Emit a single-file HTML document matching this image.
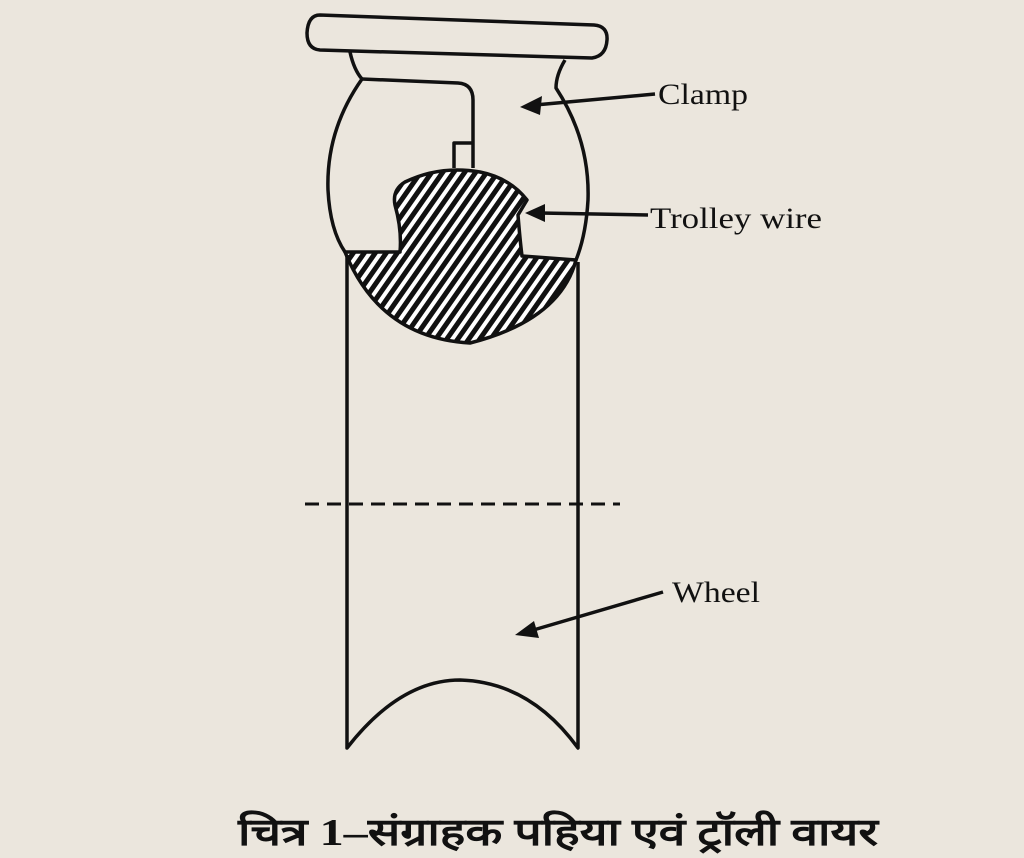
<!DOCTYPE html>
<html><head><meta charset="utf-8"><style>
html,body{margin:0;padding:0;background:#ebe6dd;}
svg{display:block}
</style></head><body>
<svg width="1024" height="858" viewBox="0 0 1024 858" xmlns="http://www.w3.org/2000/svg">
<rect width="1024" height="858" fill="#ebe6dd"/>
<defs>
<pattern id="h" width="9" height="9" patternUnits="userSpaceOnUse" patternTransform="rotate(35)">
<rect width="9" height="9" fill="#fff"/>
<rect width="5" height="9" fill="#111"/>
</pattern>
</defs>
<g fill="none" stroke="#111" stroke-width="3.5" stroke-linejoin="round">
<path d="M320 15 L594 25 Q608 26 607 40 Q606 56 592 58 L320 50 Q307 49 307 33 Q308 15 320 15 Z"/>
<path d="M350 52 Q354 70 362 79 Q326 130 328 190 Q330 230 345 252"/>
<path d="M565 60 Q556 75 556 88 Q590 140 588 200 Q586 235 576 260"/>
<path d="M362 79 L458 83 Q473 84 473 100 L473 168"/>
<path d="M454 168 L454 143 L473 143"/>
<path fill="url(#h)" d="M345 252 L400 252 Q402 230 395 205 Q392 190 405 182 Q440 165 480 172 Q510 178 527 200 L518 215 Q520 240 522 256 L576 260 Q560 320 470 343 Q380 338 345 252 Z"/>
<path d="M347 255 L347 748 Q400 680 460 680 Q530 682 578 748 L578 262"/>
</g>
<line x1="305" y1="504" x2="620" y2="504" stroke="#111" stroke-width="3" stroke-dasharray="14,8"/>
<g stroke="#111" stroke-width="3.5" fill="#111">
<line x1="655" y1="94" x2="535" y2="105"/>
<polygon points="520,107 542,96 540,115" stroke="none"/>
<line x1="648" y1="215" x2="540" y2="213"/>
<polygon points="525,213 545,204 545,222" stroke="none"/>
<line x1="663" y1="592" x2="530" y2="631"/>
<polygon points="515,635 534,621 539,638" stroke="none"/>
</g>
<g font-family="Liberation Serif, serif" font-size="30" fill="#111">
<text x="658" y="104" textLength="90" lengthAdjust="spacingAndGlyphs">Clamp</text>
<text x="650" y="228" textLength="172" lengthAdjust="spacingAndGlyphs">Trolley wire</text>
<text x="672" y="602" textLength="88" lengthAdjust="spacingAndGlyphs">Wheel</text>
</g>
<text x="238" y="845" textLength="640" lengthAdjust="spacingAndGlyphs" font-family="Liberation Serif, 'Noto Sans CJK SC', sans-serif" font-size="38" font-weight="bold" fill="#111">चित्र 1–संग्राहक पहिया एवं ट्रॉली वायर</text>
</svg>
</body></html>
